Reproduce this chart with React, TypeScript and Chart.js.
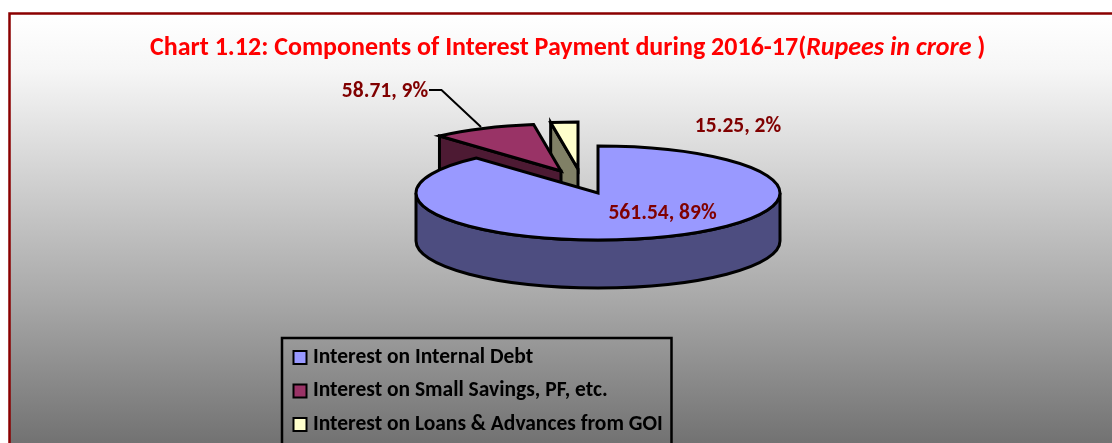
import React, { useEffect, useRef } from "react";
import { Chart, registerables } from "chart.js";

Chart.register(...registerables);

const categories = [
  "Interest on Internal Debt",
  "Interest on Small Savings, PF, etc.",
  "Interest on Loans & Advances from GOI",
];
const values = [561.54, 58.71, 15.25];
const percents = [89, 9, 2];
const topColors = ["#9999ff", "#993366", "#ffffcc"];
const sideColors = ["#4d4d80", "#4d1a33", "#808066"];

const FONT = "Carlito, Calibri, Lato, sans-serif";
const W = 1112;
const H = 443;
const RX = 182;
const RY = 47;
const DEPTH = 48;
const explode = [
  { x: 0, y: 0 },
  { x: -37, y: -22 },
  { x: -20, y: -24 },
];
const labelPos = [
  { x: 662.5, y: 214 },
  { x: 385, y: 92 },
  { x: 738, y: 127 },
];
const LABEL_SIZE = 21.5;

const pie3d = {
  id: "pie3d",
  beforeDraw(chart: any) {
    const { ctx } = chart;
    ctx.save();
    ctx.fillStyle = "#ffffff";
    ctx.fillRect(0, 0, W, H);
    const g = ctx.createLinearGradient(0, 14, 0, H);
    g.addColorStop(0, "#ffffff");
    g.addColorStop(56 / 429, "#f6f6f6");
    g.addColorStop(286 / 429, "#a8a8a8");
    g.addColorStop(1, "#727272");
    ctx.fillStyle = g;
    ctx.fillRect(9, 14, W - 9, H - 14);
    ctx.strokeStyle = "#8b0000";
    ctx.lineWidth = 2.5;
    ctx.beginPath();
    ctx.moveTo(9.5, H);
    ctx.lineTo(9.5, 13.5);
    ctx.lineTo(W, 13.5);
    ctx.stroke();

    // title
    const parts = [
      { t: "Chart 1.12: Components of Interest Payment during 2016-17(", f: "bold" },
      { t: "Rupees in crore ", f: "italic bold" },
      { t: ")", f: "bold" },
    ];
    ctx.fillStyle = "#ff0000";
    ctx.textBaseline = "middle";
    ctx.textAlign = "left";
    let x = 150;
    for (const p of parts) {
      ctx.font = `${p.f} 26px ${FONT}`;
      ctx.fillText(p.t, x, 48);
      x += ctx.measureText(p.t).width;
    }
    ctx.restore();
  },
  beforeDatasetDraw(chart: any) {
    const { ctx } = chart;
    const arcs = chart.getDatasetMeta(0).data;
    ctx.save();
    ctx.strokeStyle = "#000000";
    ctx.lineWidth = 3;
    ctx.lineJoin = "miter";
    const order = [2, 1, 0];
    for (const i of order) {
      const el = arcs[i];
      const cx = el.x + explode[i].x;
      const cy = el.y + explode[i].y;
      const a0 = el.startAngle;
      const a1 = el.endAngle;
      const px = (a: number) => cx + RX * Math.cos(a);
      const py = (a: number) => cy + RY * Math.sin(a);

      // cut face that turns towards the viewer (start edge of the wedge)
      if (i > 0) {
        ctx.beginPath();
        ctx.moveTo(px(a0), py(a0));
        ctx.lineTo(cx, cy);
        ctx.lineTo(cx, cy + DEPTH);
        ctx.lineTo(px(a0), py(a0) + DEPTH);
        ctx.closePath();
        ctx.fillStyle = sideColors[i];
        ctx.fill();
        ctx.stroke();
      }
      // outer rim, front half only
      const s = Math.max(a0, 0);
      const e = Math.min(a1, Math.PI);
      if (e > s) {
        ctx.beginPath();
        ctx.ellipse(cx, cy, RX, RY, 0, s, e);
        ctx.lineTo(px(e), py(e) + DEPTH);
        ctx.ellipse(cx, cy + DEPTH, RX, RY, 0, e, s, true);
        ctx.closePath();
        ctx.fillStyle = sideColors[i];
        ctx.fill();
        ctx.stroke();
      }
      // top face
      ctx.beginPath();
      ctx.moveTo(cx, cy);
      ctx.ellipse(cx, cy, RX, RY, 0, a0, a1);
      ctx.closePath();
      ctx.fillStyle = topColors[i];
      ctx.fill();
      ctx.stroke();
    }

    // leader line for the small-savings label
    ctx.lineWidth = 2;
    ctx.beginPath();
    ctx.moveTo(429, 90);
    ctx.lineTo(441.5, 90);
    ctx.lineTo(481, 127);
    ctx.stroke();

    // data labels
    ctx.fillStyle = "#800000";
    ctx.font = `bold ${LABEL_SIZE}px ${FONT}`;
    ctx.textAlign = "center";
    ctx.textBaseline = "middle";
    values.forEach((v, i) => {
      ctx.fillText(`${v}, ${percents[i]}%`, labelPos[i].x, labelPos[i].y);
    });
    ctx.restore();
    return false;
  },
  afterLayout(chart: any) {
    const l = chart.legend;
    l.left = 285.75;
    l.top = 334.75;
    l.right = 672;
    l.bottom = H + 60;
    l.width = l.right - l.left;
    l.height = l.bottom - l.top;
  },
  afterDraw(chart: any) {
    const { ctx } = chart;
    ctx.save();
    ctx.strokeStyle = "#000000";
    ctx.lineWidth = 2.5;
    ctx.beginPath();
    ctx.moveTo(282, H + 5);
    ctx.lineTo(282, 338);
    ctx.lineTo(671.5, 338);
    ctx.lineTo(671.5, H + 5);
    ctx.stroke();
    ctx.restore();
  },
};

export default function App() {
  const ref = useRef<HTMLCanvasElement | null>(null);
  useEffect(() => {
    document.body.style.margin = "0";
    const chart = new Chart(ref.current as HTMLCanvasElement, {
      type: "pie",
      data: {
        labels: categories,
        datasets: [
          {
            data: values,
            backgroundColor: topColors,
            borderColor: "#000000",
            borderWidth: 2,
          },
        ],
      },
      plugins: [pie3d],
      options: {
        responsive: false,
        animation: false,
        layout: { padding: { left: 84, right: 0, top: 0, bottom: 57 } },
        plugins: {
          title: { display: false },
          tooltip: { enabled: false },
          legend: {
            position: "chartArea",
            align: "start",
            labels: {
              usePointStyle: true,
              pointStyle: "rect",
              boxWidth: 4.5,
              boxHeight: 13,
              padding: 12,
              color: "#000000",
              font: { family: FONT, size: 21.5, weight: "bold" },
            },
          },
        },
      },
    } as any);
    return () => chart.destroy();
  }, []);
  return (
    <canvas
      ref={ref}
      width={W}
      height={H}
      style={{ display: "block", width: W, height: H }}
    />
  );
}
